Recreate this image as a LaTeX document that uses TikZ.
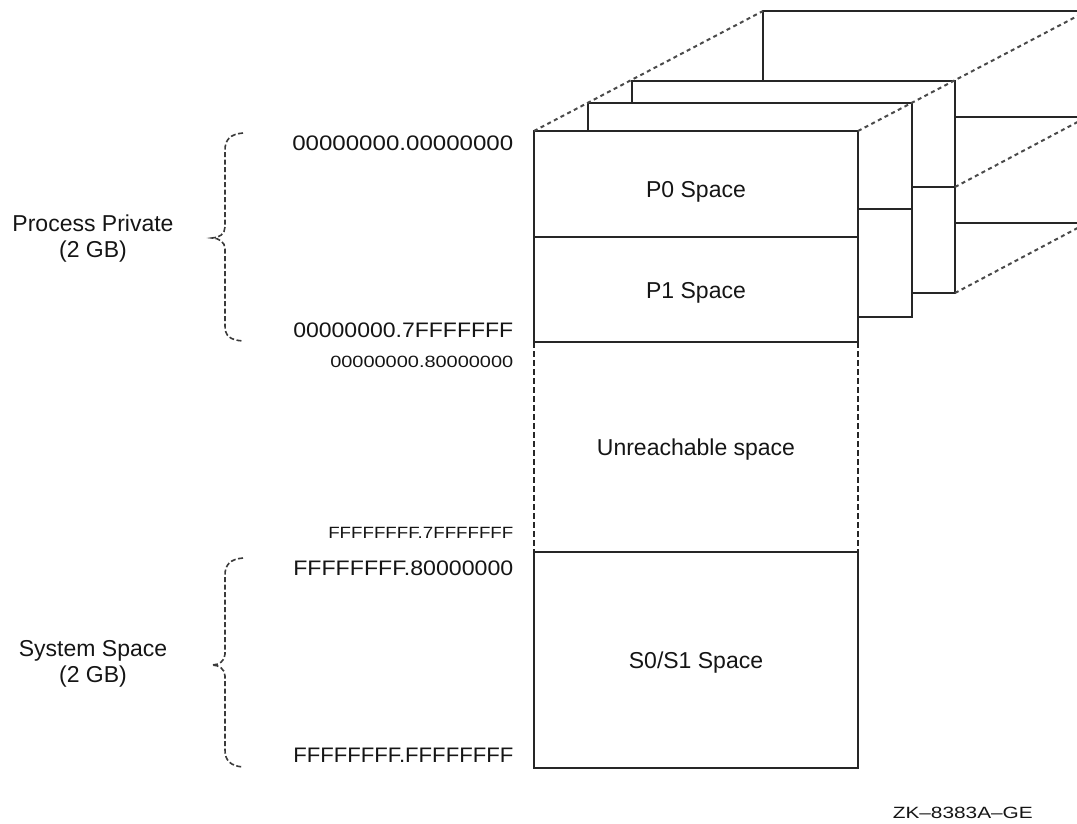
\documentclass[tikz,border=0pt]{standalone}
\usepackage{fontspec}
\setmainfont{Liberation Sans}
\usepackage{graphicx}
\definecolor{lc}{HTML}{262626}
\definecolor{dc}{HTML}{4A4A4A}
\definecolor{bc}{HTML}{3A3A3A}
\definecolor{tc}{HTML}{151515}
\newcommand\wtxt[2]{\resizebox{#1}{\height}{#2}}
\begin{document}
\begin{tikzpicture}[x=1pt,y=-1pt,
  ln/.style={draw=lc, line width=2pt},
  persp/.style={draw=dc, line width=2pt, dash pattern=on 4pt off 3.5pt},
  bracestyle/.style={draw=bc, line width=1.6pt, dash pattern=on 5pt off 2.5pt},
  sidedash/.style={draw=lc, line width=1.5pt, dash pattern=on 6pt off 3pt},
  region/.style={minimum width=324pt, inner sep=0pt, outer sep=0pt},
  regionbox/.style={region, ln, fill=white},
  rlabel/.style={anchor=base, inner sep=0pt, text=tc, font=\fontsize{23}{26}\selectfont},
  addr/.style={anchor=base east, inner sep=0pt, text=tc, font=\fontsize{21}{24}\selectfont},
  saddr/.style={anchor=base east, inner sep=0pt, text=tc, font=\fontsize{16.3}{19}\selectfont},
  side/.style={align=center, inner sep=0pt, text=tc, font=\fontsize{23}{26}\selectfont},
]
\useasboundingbox (0,0) rectangle (1077,823);
\clip (0,0) rectangle (1077,823);

% back page (4)
\coordinate (b4tl) at (763,11);
\coordinate (b4tr) at (1087,11);
\coordinate (b4mr) at (1087,117);
\coordinate (b4br) at (1087,223);
\draw[ln] (763,223) -- (b4tl) -- (b4tr) -- (b4br) -- cycle;
\draw[ln] (763,117) -- (b4mr);

% page 3
\node[region, ln, fill=white, minimum width=323pt, minimum height=212pt, anchor=north west] (b3) at (632,81) {};
\draw[ln] (632,187) -- (955,187);
\coordinate (b3mr) at (955,187);

% page 2
\node[region, ln, fill=white, anchor=north west, minimum height=214pt] (b2) at (588,103) {};
\draw[ln] (588,209) -- (912,209);

% front page
\node[regionbox, anchor=north west, minimum height=106pt] (p0) at (534,131) {};
\node[regionbox, anchor=north west, minimum height=105pt] (p1) at (534,237) {};
\node[region, anchor=north west, minimum height=210pt] (ur) at (534,342) {};
\node[regionbox, anchor=north west, minimum height=216pt] (s0) at (534,552) {};
\draw[sidedash] (ur.north west) -- (ur.south west);
\draw[sidedash] (ur.north east) -- (ur.south east);

% perspective lines
\draw[persp] (p0.north west) -- (b4tl);
\draw[persp] (p0.north east) -- (b4tr);
\draw[persp] (b3mr) -- (b4mr);
\draw[persp] (b3.south east) -- (b4br);

% region labels
\node[rlabel] (t0) at (696,197) {P0 Space};
\node[rlabel] (t1) at (696,298) {P1 Space};
\node[rlabel] (tu) at (696,455) {Unreachable space};
\node[rlabel] (ts) at (696,668) {S0/S1 Space};

% addresses
\node[addr] (a1) at (513.5,150) {\wtxt{221pt}{00000000.00000000}};
\node[addr] (a2) at (513.5,337) {\wtxt{220pt}{00000000.7FFFFFFF}};
\node[saddr] (a3) at (513.5,367) {\wtxt{183pt}{00000000.80000000}};
\node[saddr] (a4) at (513.5,538) {\wtxt{185pt}{FFFFFFFF.7FFFFFFF}};
\node[addr] (a5) at (513.5,575) {\wtxt{220pt}{FFFFFFFF.80000000}};
\node[addr] (a6) at (513.5,762) {\wtxt{220pt}{FFFFFFFF.FFFFFFFF}};

% braces
\draw[bracestyle] (243,133) .. controls (230,134) and (225,140) .. (225,150) -- (225,227)
  .. controls (225,234) and (219,238) .. (212,238)
  .. controls (219,238) and (225,242) .. (225,249) -- (225,326)
  .. controls (225,336) and (230,340) .. (243,341);
\draw[bracestyle] (243,558) .. controls (230,559) and (225,565) .. (225,575) -- (225,654)
  .. controls (225,661) and (219,665) .. (212,665)
  .. controls (219,665) and (225,669) .. (225,676) -- (225,750)
  .. controls (225,760) and (230,766) .. (243,767);

% side labels
\node[side] (pp) at (93,239) {Process Private\\(2 GB)};
\node[side] (ss) at (93,664) {System Space\\(2 GB)};

% figure id
\node[anchor=base east, inner sep=0pt, text=tc, font=\fontsize{16.3}{19}\selectfont] (zk) at (1033,818) {\wtxt{140pt}{ZK–8383A–GE}};
\end{tikzpicture}
\end{document}
